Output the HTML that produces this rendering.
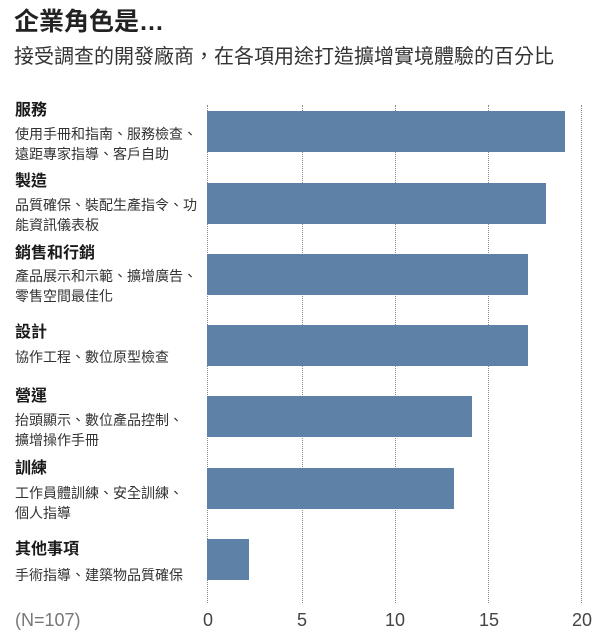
<!DOCTYPE html>
<html><head><meta charset="utf-8"><style>
body{margin:0;width:600px;height:643px;background:#fff;position:relative;overflow:hidden;font-family:"Liberation Sans","Noto Sans CJK TC",sans-serif;color:#222}
.a{position:absolute;white-space:nowrap}
.t{font-weight:bold;font-size:16px;line-height:18px;color:#1a1a1a}
.d{font-size:14px;line-height:20px;color:#333}
.bar{position:absolute;left:207px;height:41px;background:#5d81a7}
.g{position:absolute;top:105px;height:498px;border-left:1px dotted #888}
.x{position:absolute;top:610px;font-size:18px;color:#444;width:40px;text-align:center;margin-left:-20px}
</style></head><body>
<div class="a" style="left:14px;top:2px;font-size:25px;font-weight:bold;color:#222">企業角色是…</div>
<div class="a" style="left:14px;top:40px;font-size:20px;color:#333">接受調查的開發廠商，在各項用途打造擴增實境體驗的百分比</div>

<div class="g" style="left:207px"></div>
<div class="g" style="left:302px"></div>
<div class="g" style="left:395px"></div>
<div class="g" style="left:488px"></div>
<div class="g" style="left:581px"></div>

<div class="bar" style="top:111px;width:358px"></div>
<div class="bar" style="top:183px;width:339px"></div>
<div class="bar" style="top:254px;width:321px"></div>
<div class="bar" style="top:325px;width:321px"></div>
<div class="bar" style="top:396px;width:265px"></div>
<div class="bar" style="top:468px;width:247px"></div>
<div class="bar" style="top:539px;width:42px"></div>

<div class="a t" style="left:15px;top:102px">服務</div>
<div class="a d" style="left:15px;top:124px">使用手冊和指南、服務檢查、<br>遠距專家指導、客戶自助</div>
<div class="a t" style="left:15px;top:173px">製造</div>
<div class="a d" style="left:15px;top:195px">品質確保、裝配生產指令、功<br>能資訊儀表板</div>
<div class="a t" style="left:15px;top:245px">銷售和行銷</div>
<div class="a d" style="left:15px;top:266px">產品展示和示範、擴增廣告、<br>零售空間最佳化</div>
<div class="a t" style="left:15px;top:324px">設計</div>
<div class="a d" style="left:15px;top:347px">協作工程、數位原型檢查</div>
<div class="a t" style="left:15px;top:388px">營運</div>
<div class="a d" style="left:15px;top:410px">抬頭顯示、數位產品控制、<br>擴增操作手冊</div>
<div class="a t" style="left:15px;top:460px">訓練</div>
<div class="a d" style="left:15px;top:483px">工作員體訓練、安全訓練、<br>個人指導</div>
<div class="a t" style="left:15px;top:541px">其他事項</div>
<div class="a d" style="left:15px;top:565px">手術指導、建築物品質確保</div>

<div class="a" style="left:15px;top:610px;font-size:18px;color:#777">(N=107)</div>
<div class="x" style="left:208px">0</div>
<div class="x" style="left:302px">5</div>
<div class="x" style="left:395px">10</div>
<div class="x" style="left:489px">15</div>
<div class="x" style="left:582px">20</div>
</body></html>
